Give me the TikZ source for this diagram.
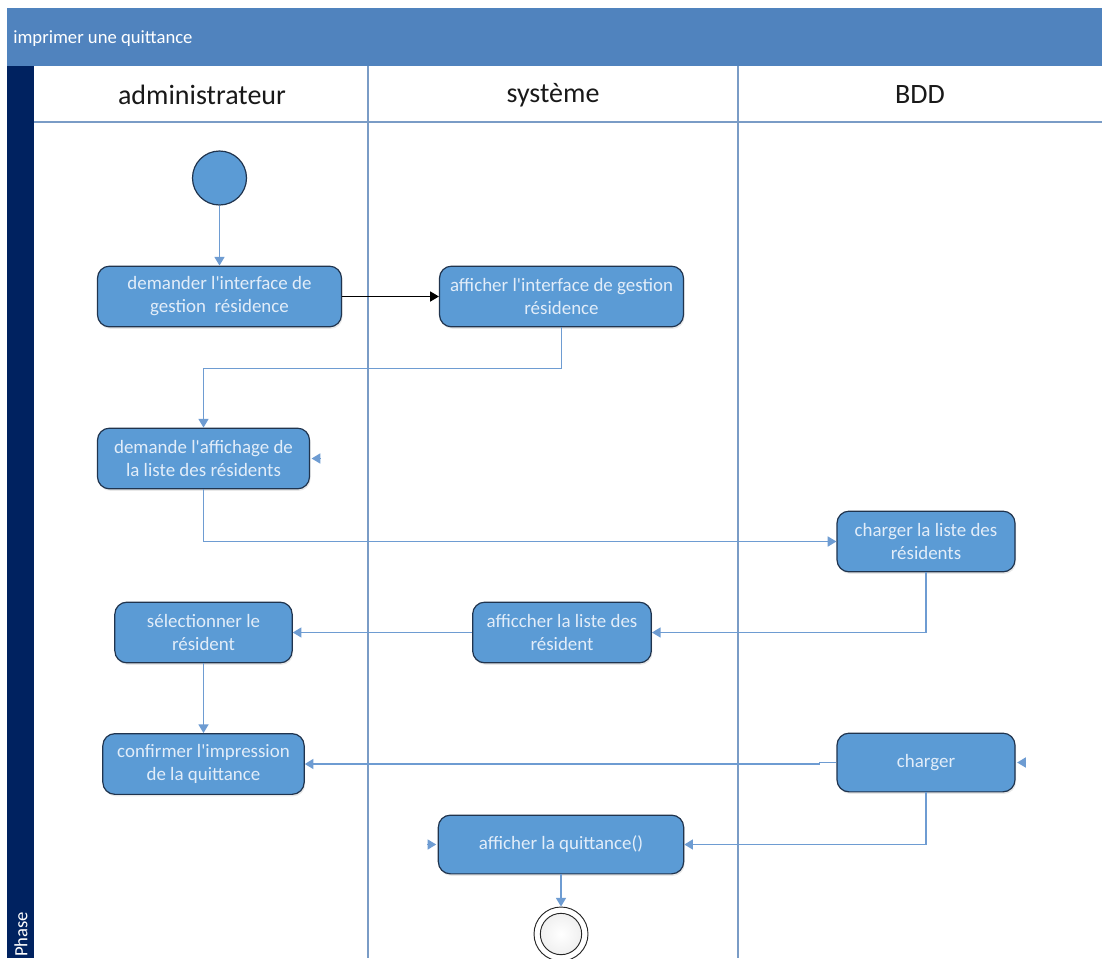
\documentclass[tikz,border=0pt]{standalone}
\usepackage{fontspec}
\setmainfont{Carlito}[Ligatures=TeXOff]
\usetikzlibrary{arrows.meta,shadows,calc}

\definecolor{titlebar}{RGB}{80,131,190}
\definecolor{navy}{RGB}{0,34,96}
\definecolor{laneline}{RGB}{122,156,198}
\definecolor{actfill}{RGB}{91,155,213}
\definecolor{actborder}{RGB}{32,52,78}
\definecolor{acttext}{RGB}{226,237,249}
\definecolor{flowline}{RGB}{110,156,210}

\begin{document}
\begin{tikzpicture}[x=0.75pt,y=-0.75pt,
  activity/.style={rectangle, rounded corners=9pt, draw=actborder,
    line width=0.9pt, fill=actfill, text=acttext,
    font=\fontsize{14.2}{17.2}\selectfont, align=center, inner sep=0pt,
    minimum height=45.5pt,
    drop shadow={opacity=0.18, shadow xshift=0.8pt, shadow yshift=-1.5pt}},
  flow/.style={draw=flowline, line width=1.1pt,
    -{Triangle[length=6.5pt,width=7.5pt]}},
  callflow/.style={draw=black, line width=0.9pt,
    -{Triangle[length=6.5pt,width=7.5pt]}},
  lane/.style={draw=laneline, line width=1pt},
  lanehead/.style={font=\fontsize{21}{25}\selectfont, text=black!90},
  initial/.style={circle, draw=actborder, line width=0.9pt, fill=actfill,
    minimum size=40.5pt, inner sep=0pt},
  final/.style={circle, draw=black!85, line width=0.7pt, fill=white,
    minimum size=40.5pt, inner sep=0pt},
  finalcore/.style={circle, draw=black!85, line width=0.7pt,
    inner color=white, outer color=gray!12,
    minimum size=31pt, inner sep=0pt}
]
\clip (0,0) rectangle (1102,958);
\fill[white] (0,0) rectangle (1102,958);

% pool frame: title bar, phase bar, lanes
\fill[titlebar] (7,8) rectangle (1102,66);
\node[anchor=west, text=white, font=\fontsize{14}{17}\selectfont, inner sep=0pt]
  (pooltitle) at (13,39) {imprimer une quittance};
\fill[navy] (7,66) rectangle (34,958);
\node[rotate=90, anchor=west, text=white, font=\fontsize{14}{16}\selectfont, inner sep=0pt]
  (phase) at (21,957) {Phase};

\draw[lane] (34,122) -- (1102,122);
\draw[lane] (368,66) -- (368,958);
\draw[lane] (738,66) -- (738,958);

\node[lanehead] (hadmin) at (202,95) {administrateur};
\node[lanehead] (hsys)   at (553,95) {système};
\node[lanehead] (hbdd)   at (920,95) {BDD};

% activities
\node[initial] (start) at (219.5,178) {};
\node[activity, minimum width=183pt] (b1) at (219.5,296.5)
  {demander l'interface de\\gestion\ \ résidence};
\node[activity, minimum width=183pt] (b2) at (561.5,296.5)
  {afficher l'interface de gestion\\résidence};
\node[activity, minimum width=159pt] (b3) at (203.5,458.5)
  {demande l'affichage de\\la liste des résidents};
\node[activity, minimum width=133.5pt] (b4) at (926,541.5)
  {charger la liste des\\résidents};
\node[activity, minimum width=134pt] (b5) at (562,632.5)
  {afficcher la liste des\\résident};
\node[activity, minimum width=133pt] (b6) at (203.5,632.5)
  {sélectionner le\\résident};
\node[activity, minimum width=151pt] (b7) at (203.5,764)
  {confirmer l'impression\\de la quittance};
\node[activity, minimum width=133.5pt, minimum height=44pt] (b8) at (926,762.5)
  {charger};
\node[activity, minimum width=184pt, minimum height=44pt] (b9) at (561,844.5)
  {afficher la quittance()};
\node[final] (end) at (561,934) {};
\node[finalcore] (endcore) at (end) {};

% control flows
\draw[flow] (start) -- (b1);
\draw[callflow] (b1) -- (b2);
\draw[flow] (b2.south) -- ++(0,41) -| (b3.north);
\draw[flow] (b3.south) |- (b4.west);
\draw[flow] (b4.south) |- (b5.east);
\draw[flow] (b5) -- (b6);
\draw[flow] (b6) -- (b7);
\draw[flow] (b8.west) -- ++(-17,0) |- (b7.east);
\draw[flow] (b8.south) |- (b9.east);
\draw[flow] (b9) -- (end);

% unattached arrowheads
\coordinate (t3a) at ($(b3.east)+(10.5,0)$);
\coordinate (t3b) at ($(b3.east)+(1.5,0)$);
\draw[flow] (t3a) -- (t3b);
\coordinate (t8a) at ($(b8.east)+(10.5,0)$);
\coordinate (t8b) at ($(b8.east)+(1.5,0)$);
\draw[flow] (t8a) -- (t8b);
\coordinate (t9a) at ($(b9.west)+(-10.5,0)$);
\coordinate (t9b) at ($(b9.west)+(-1.5,0)$);
\draw[flow] (t9a) -- (t9b);
\end{tikzpicture}
\end{document}
